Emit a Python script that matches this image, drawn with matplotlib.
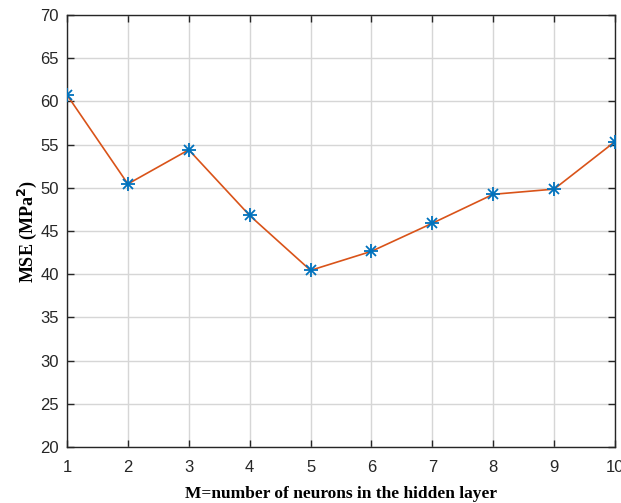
import matplotlib
matplotlib.use("Agg")
import matplotlib.pyplot as plt

neurons = [1, 2, 3, 4, 5, 6, 7, 8, 9, 10]
mse = [60.75, 50.45, 54.4, 46.8, 40.45, 42.65, 45.9, 49.25, 49.85, 55.35]
y_ticks = [20, 25, 30, 35, 40, 45, 50, 55, 60, 65, 70]

fig = plt.figure(figsize=(6.21, 5.03), dpi=100)
ax = fig.add_axes([0.1079, 0.1113, 0.8824, 0.8588])

ax.plot(neurons, mse, color="#D95319", linewidth=1.2, zorder=3)
# MATLAB-style asterisk: overlay plus and x markers
ax.plot(neurons, mse, linestyle="none", marker="+", markersize=10,
        color="#0072BD", markeredgewidth=1.3, zorder=5)
ax.plot(neurons, mse, linestyle="none", marker="x", markersize=7,
        color="#0072BD", markeredgewidth=1.3, zorder=5)

ax.set_xlim(1, 10)
ax.set_ylim(20, 70)
ax.set_xticks(neurons)
ax.set_yticks(y_ticks)
ax.grid(True, color="#D6D6D6", linewidth=1.0)
ax.set_axisbelow(True)

ax.tick_params(direction="in", length=5, width=1, top=True, right=True,
               labelsize=12, labelcolor="#262626", color="#262626")
ax.tick_params(axis="x", pad=9)
ax.tick_params(axis="y", pad=6)
for lab in ax.get_xticklabels() + ax.get_yticklabels():
    lab.set_family(["Liberation Sans", "DejaVu Sans"])
for sp in ax.spines.values():
    sp.set_color("#262626")
    sp.set_linewidth(1.0)

ax.set_xlabel("M=number of neurons in the hidden layer",
              family="Liberation Serif", fontweight="bold", fontsize=12.5, labelpad=8)
ax.set_ylabel(r"MSE (MPa$^\mathbf{2}$)",
              family="Liberation Serif", fontweight="bold", fontsize=13, labelpad=1)

fig.savefig("out.png", dpi=100)
